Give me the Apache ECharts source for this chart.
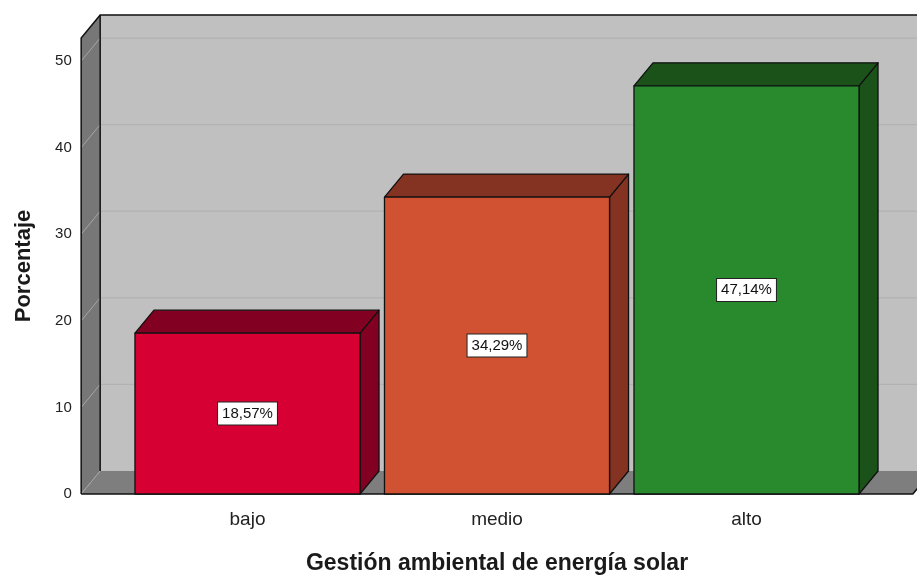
<!DOCTYPE html>
<html>
<head>
<meta charset="utf-8">
<style>
  html, body { margin: 0; padding: 0; background: #ffffff; overflow: hidden; }
  #chart { width: 917px; height: 575px; }
</style>
<script src="https://cdn.jsdelivr.net/npm/echarts@6/dist/echarts.min.js"></script>
</head>
<body>
<div id="chart"></div>
<script>
// Categories and percentages
var categories = ['bajo', 'medio', 'alto'];
var percentages = [18.57, 34.29, 47.14];
var yTicks = [0, 10, 20, 30, 40, 50];

// Face colours per bar: front face and the darker top/side faces
var frontColors = ['#d60033', '#d05232', '#288a2d'];
var shadeColors = ['#820022', '#843222', '#1b5219'];

// 3D depth offsets in pixels
var DX = 19, DY = -23;
var FONT = 'Liberation Sans, Arial, sans-serif';
var Y_TOP = 52.66;

var chart = echarts.init(document.getElementById('chart'));

function wallsRender(params, api) {
  var c0 = api.coord([0, 0]);
  var c2 = api.coord([categories.length - 1, 0]);
  var band = api.size([1, 0])[0];
  var L = c0[0] - band * 2 / 3;
  var R = c2[0] + band * 2 / 3;
  var y0 = c0[1];
  var top = api.coord([0, Y_TOP])[1];
  var children = [];
  // back wall
  children.push({ type: 'rect', shape: { x: L + DX, y: top + DY, width: R - L, height: y0 - top },
    style: { fill: '#c0c0c0' } });
  // left wall
  children.push({ type: 'polygon', shape: { points: [[L, top], [L + DX, top + DY], [L + DX, y0 + DY], [L, y0]] },
    style: { fill: '#777777' } });
  // floor
  children.push({ type: 'polygon', shape: { points: [[L, y0], [L + DX, y0 + DY], [R + DX, y0 + DY], [R, y0]] },
    style: { fill: '#7e7e7e' } });
  // grid lines on back and left walls
  yTicks.forEach(function (v) {
    var y = api.coord([0, v])[1];
    if (v > 0) {
      children.push({ type: 'line', shape: { x1: L + DX, y1: y + DY, x2: R + DX, y2: y + DY },
        style: { stroke: '#b2b2b2', lineWidth: 1.2 } });
    }
    children.push({ type: 'line', shape: { x1: L, y1: y, x2: L + DX, y2: y + DY },
      style: { stroke: '#a6a6a6', lineWidth: 1 } });
  });
  // edges
  var edge = { stroke: '#111111', lineWidth: 1.5, fill: null };
  children.push({ type: 'polyline', shape: { points: [[L, y0], [L, top], [L + DX, top + DY], [R + DX + 40, top + DY]] }, style: edge });
  children.push({ type: 'line', shape: { x1: L + DX, y1: top + DY, x2: L + DX, y2: y0 + DY }, style: edge });
  children.push({ type: 'polyline', shape: { points: [[L, y0], [R, y0], [R + DX, y0 + DY]] }, style: edge });
  return { type: 'group', children: children };
}

function barRender(params, api) {
  var idx = api.value(0);
  var val = api.value(1);
  var base = api.coord([idx, 0]);
  var topPt = api.coord([idx, val]);
  var band = api.size([1, 0])[0];
  var w = band * 0.902;
  var x1 = base[0] - w / 2, x2 = base[0] + w / 2;
  var y0 = base[1], yt = topPt[1];
  var stroke = { stroke: '#111111', lineWidth: 1.3, lineJoin: 'round' };
  var label = val.toFixed(2).replace('.', ',') + '%';
  return {
    type: 'group',
    children: [
      { type: 'polygon', shape: { points: [[x2, yt], [x2 + DX, yt + DY], [x2 + DX, y0 + DY], [x2, y0]] },
        style: Object.assign({ fill: shadeColors[idx] }, stroke) },
      { type: 'polygon', shape: { points: [[x1, yt], [x1 + DX, yt + DY], [x2 + DX, yt + DY], [x2, yt]] },
        style: Object.assign({ fill: shadeColors[idx] }, stroke) },
      { type: 'rect', shape: { x: x1, y: yt, width: x2 - x1, height: y0 - yt },
        style: Object.assign({ fill: frontColors[idx] }, stroke) },
      { type: 'text', x: base[0], y: (yt + y0) / 2,
        style: { text: label, font: '15px ' + FONT, fill: '#111111', align: 'center', verticalAlign: 'middle',
          backgroundColor: '#ffffff', borderColor: '#222222', borderWidth: 1, padding: [4, 4, 3, 4] } }
    ]
  };
}

chart.setOption({
  animation: false,
  backgroundColor: '#ffffff',
  grid: { left: 122.75, width: 748.5, top: 38, height: 456, containLabel: false, outerBoundsMode: 'none' },
  xAxis: {
    type: 'category',
    data: categories,
    name: 'Gestión ambiental de energía solar',
    nameLocation: 'middle',
    nameGap: 58,
    nameTextStyle: { fontFamily: FONT, fontSize: 23, fontWeight: 'bold', color: '#1a1a1a' },
    axisLine: { show: false },
    axisTick: { show: false },
    axisLabel: { fontFamily: FONT, fontSize: 19, color: '#222222', margin: 16 },
    splitLine: { show: false }
  },
  yAxis: {
    type: 'value',
    min: 0,
    max: Y_TOP,
    interval: 10,
    name: 'Porcentaje',
    nameLocation: 'middle',
    nameGap: 88,
    nameTextStyle: { fontFamily: FONT, fontSize: 22, fontWeight: 'bold', color: '#1a1a1a' },
    axisLine: { show: false },
    axisTick: { show: false },
    splitLine: { show: false },
    axisLabel: {
      fontFamily: FONT, fontSize: 15, color: '#222222', margin: 51, showMaxLabel: false,
      formatter: function (v) { return (v % 10 === 0) ? String(v) : ''; }
    }
  },
  series: [
    { type: 'custom', renderItem: wallsRender, data: [[0, 0]], z: 1, silent: true, clip: false },
    {
      type: 'custom',
      renderItem: barRender,
      data: percentages.map(function (v, i) { return [i, v]; }),
      z: 2,
      clip: false
    }
  ]
});
</script>
</body>
</html>
